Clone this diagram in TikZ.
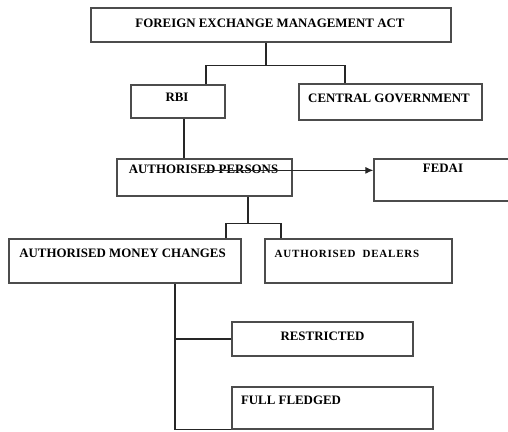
\documentclass[tikz,border=0pt]{standalone}
\usepackage{fontspec}
\setmainfont{Liberation Serif}
\usetikzlibrary{arrows.meta}
\tikzset{
  box/.style={draw=black!70, line width=1.3pt, inner sep=0pt},
  lbl/.style={font=\fontsize{12.9}{15}\selectfont\bfseries, inner sep=0pt},
  conn/.style={draw=black!85, line width=1.1pt}
}
\begin{document}
\begin{tikzpicture}[>={Latex[length=8pt,width=7pt]}, x=1pt, y=-1pt]
\useasboundingbox (0,0) rectangle (508,431);
\clip (0,0) rectangle (508,431);
\node[box, minimum width=360, minimum height=34] (fema) at (271,25) {};
\node[box, minimum width=94, minimum height=33] (rbi) at (178,101.5) {};
\node[box, minimum width=183, minimum height=36] (cg) at (390.5,102) {};
\node[box, minimum width=175, minimum height=37] (ap) at (204.5,177.5) {};
\node[box, minimum width=160, minimum height=42] (fedai) at (454,180) {};
\node[box, minimum width=232, minimum height=44] (amc) at (125,261) {};
\node[box, minimum width=187, minimum height=44] (ad) at (358.5,261) {};
\node[box, minimum width=181, minimum height=34] (rest) at (322.5,339) {};
\node[box, minimum width=201, minimum height=42] (ff) at (332.5,408) {};
\node[lbl] (ttfema) at (270,23) {FOREIGN EXCHANGE MANAGEMENT ACT};
\node[lbl] (ttrbi) at (177,97.5) {RBI};
\node[lbl] (ttcg) at (389,98) {CENTRAL GOVERNMENT};
\node[lbl] (ttap) at (203.5,169) {AUTHORISED PERSONS};
\node[lbl] (ttfedai) at (443,168.5) {FEDAI};
\node[lbl] (ttamc) at (122.5,253.5) {AUTHORISED MONEY CHANGES};
\node[lbl, font=\fontsize{11}{13}\selectfont\bfseries\addfontfeature{LetterSpace=7}] (ttad) at (347,253.5) {AUTHORISED\ \ DEALERS};
\node[lbl] (ttrest) at (322.5,336.5) {RESTRICTED};
\node[lbl] (ttff) at (291,400) {FULL FLEDGED};
\draw[conn] ([xshift=-5]fema.south) -- ++(0,23) coordinate (j1);
\draw[conn] ([xshift=28]rbi.north) |- (j1) -| ([xshift=-45.5]cg.north);
\draw[conn] ([xshift=6]rbi.south) -- ([xshift=6]rbi.south |- ap.north);
\draw[conn, ->] ([yshift=-12]ap.north) -- ([yshift=-12]ap.north -| fedai.west);
\draw[conn] ([xshift=43.5]ap.south) -- ++(0,27) coordinate (j2);
\draw[conn] ([xshift=101]amc.north) |- (j2) -| ([xshift=-77.5]ad.north);
\coordinate (j3) at ([xshift=50]amc.south);
\draw[conn] (j3) |- (ff.south west);
\draw[conn] (rest.west) -- (rest.west -| j3);
\end{tikzpicture}
\end{document}
